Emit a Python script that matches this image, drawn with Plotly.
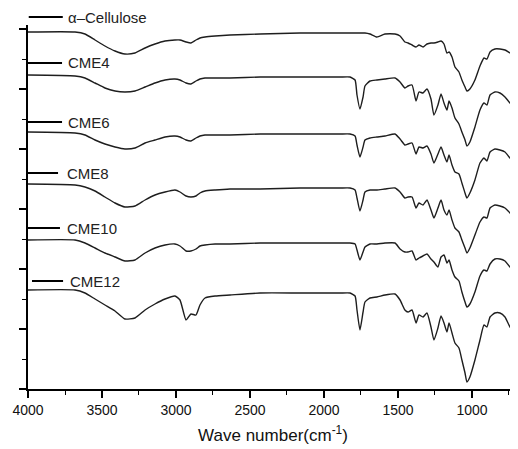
import plotly.graph_objects as go

# Wavenumber grid (cm-1)
wavenumber = [4000, 3682, 3615, 3547, 3480, 3412, 3345, 3277, 3209, 3142,
              3074, 3007, 2973, 2932, 2899, 2865, 2838, 2804, 2736, 2635,
              2432, 2162, 1892, 1824, 1790, 1777, 1757, 1736, 1723, 1689,
              1642, 1588, 1520, 1486, 1453, 1432, 1405, 1378, 1358, 1331,
              1304, 1277, 1257, 1230, 1209, 1189, 1169, 1155, 1135, 1115,
              1088, 1068, 1047, 1034, 1014, 980, 946, 919, 899, 878,
              845, 811, 777, 743, 689]

# Stacked transmittance (arbitrary units, offset per sample)
alpha_cellulose = [357, 357, 355, 349, 343, 338, 335, 336, 341, 345,
                   348, 349, 349, 347, 346, 349, 351, 352, 353, 354,
                   355, 356, 356, 356, 356, 356, 356, 356, 356, 355,
                   352, 355, 355, 353, 347, 346, 344, 342, 344, 342,
                   345, 346, 346, 347, 348, 345, 336, 337, 332, 322,
                   317, 309, 302, 298, 300, 309, 323, 331, 330, 337,
                   340, 340, 339, 336, 332]
cme4 = [314, 313, 311, 306, 301, 298, 297, 298, 302, 306,
        309, 310, 309, 306, 305, 308, 310, 311, 311, 311,
        312, 312, 312, 312, 309, 294, 280, 292, 303, 308,
        309, 310, 311, 307, 301, 303, 304, 288, 297, 296,
        300, 290, 274, 284, 295, 286, 279, 288, 281, 271,
        265, 257, 249, 243, 247, 262, 279, 286, 284, 294,
        297, 296, 292, 286, 279]
cme6 = [257, 256, 254, 249, 245, 242, 240, 241, 246, 249,
        252, 253, 252, 249, 248, 251, 253, 254, 254, 254,
        255, 255, 255, 255, 253, 244, 232, 242, 249, 251,
        252, 253, 255, 250, 244, 245, 246, 235, 242, 241,
        243, 235, 226, 235, 242, 234, 227, 234, 224, 217,
        215, 206, 196, 191, 196, 209, 226, 231, 228, 237,
        240, 239, 237, 231, 224]
cme8 = [205, 204, 202, 198, 192, 186, 182, 183, 189, 194,
        197, 199, 197, 193, 192, 193, 196, 198, 199, 200,
        200, 201, 201, 201, 199, 191, 178, 189, 197, 199,
        199, 200, 201, 197, 191, 192, 192, 181, 186, 184,
        189, 179, 171, 181, 189, 179, 174, 179, 169, 161,
        157, 149, 141, 136, 141, 154, 167, 172, 171, 181,
        184, 183, 181, 176, 169]
cme10 = [149, 149, 146, 141, 136, 132, 128, 129, 136, 141,
         144, 145, 143, 138, 138, 140, 143, 144, 145, 145,
         146, 146, 146, 146, 145, 139, 129, 137, 142, 145,
         145, 146, 146, 140, 137, 137, 138, 129, 131, 133,
         135, 130, 127, 122, 132, 134, 126, 129, 119, 112,
         108, 97, 87, 82, 85, 97, 113, 119, 118, 125,
         130, 130, 128, 122, 117]
cme12 = [99, 99, 96, 90, 84, 78, 70, 71, 79, 85,
         90, 93, 89, 69, 75, 74, 84, 91, 93, 94,
         96, 96, 96, 96, 93, 79, 59, 77, 87, 91,
         92, 94, 95, 89, 79, 77, 79, 66, 74, 72,
         76, 62, 49, 61, 73, 66, 57, 66, 56, 46,
         41, 29, 16, 7, 12, 29, 49, 64, 62, 72,
         76, 76, 72, 62, 52]

sample_names = ["\u03b1\u2013Cellulose", "CME4", "CME6", "CME8", "CME10", "CME12"]
series = [alpha_cellulose, cme4, cme6, cme8, cme10, cme12]
x_tick_values = [4000, 3500, 3000, 2500, 2000, 1500, 1000]

# label layout (y in data units, x in wavenumbers)
label_y = [372, 326, 267, 216, 161, 108]
seg_start = [3995, 4000, 4000, 4000, 4000, 3973]
seg_end = [3765, 3770, 3770, 3797, 3784, 3763]
text_x = [3740, 3740, 3740, 3752, 3752, 3730]

X_HI, X_LO = 4000, 689
Y_LO, Y_HI = 0, 364


def px(wn):
    return (X_HI - wn) / (X_HI - X_LO)


def py(v):
    return (v - Y_LO) / (Y_HI - Y_LO)


fig = go.Figure()
for name, ys in zip(sample_names, series):
    fig.add_trace(go.Scatter(
        x=wavenumber, y=ys, mode="lines", name=name, showlegend=False,
        line=dict(color="#1e1e1e", width=1.4, shape="spline", smoothing=0.5),
    ))

shapes = []
annotations = []
for name, ly, s0, s1, tx in zip(sample_names, label_y, seg_start, seg_end, text_x):
    shapes.append(dict(type="line", xref="paper", yref="paper",
                       x0=px(s0), x1=px(s1), y0=py(ly), y1=py(ly),
                       line=dict(color="black", width=2)))
    annotations.append(dict(xref="paper", yref="paper", x=px(tx), y=py(ly),
                            text=name, showarrow=False, xanchor="left",
                            yanchor="middle",
                            font=dict(family="Liberation Sans", size=15, color="#222")))

# the page body adds an 8px offset, so the figure is 8px smaller on each side
fig.update_layout(
    width=510, height=441,
    margin=dict(l=20, r=0, t=17, b=60),
    paper_bgcolor="white", plot_bgcolor="white",
    shapes=shapes, annotations=annotations,
    font=dict(family="Liberation Sans", color="#111"),
    xaxis=dict(
        range=[X_HI, X_LO], autorange=False,
        showline=True, linecolor="black", linewidth=1.5,
        ticks="outside", ticklen=7, tickwidth=1.5, tickcolor="black",
        tickvals=x_tick_values,
        tickfont=dict(family="Liberation Sans", size=14, color="#111"),
        minor=dict(ticks="outside", ticklen=4, tickwidth=1.2, tickcolor="black", dtick=250),
        showgrid=False, zeroline=False, automargin=False,
        title=dict(text="Wave number(cm<sup>-1</sup>)",
                   font=dict(family="Liberation Sans", size=17, color="#111"),
                   standoff=13),
    ),
    yaxis=dict(
        range=[Y_LO, Y_HI], autorange=False,
        showline=True, linecolor="black", linewidth=1.5,
        ticks="outside", ticklen=7, tickwidth=1.5, tickcolor="black",
        tick0=0, dtick=60, showticklabels=False,
        minor=dict(ticks="outside", ticklen=4, tickwidth=1.2, tickcolor="black", dtick=30),
        showgrid=False, zeroline=False, automargin=False,
    ),
)

fig.write_html("out.html")
